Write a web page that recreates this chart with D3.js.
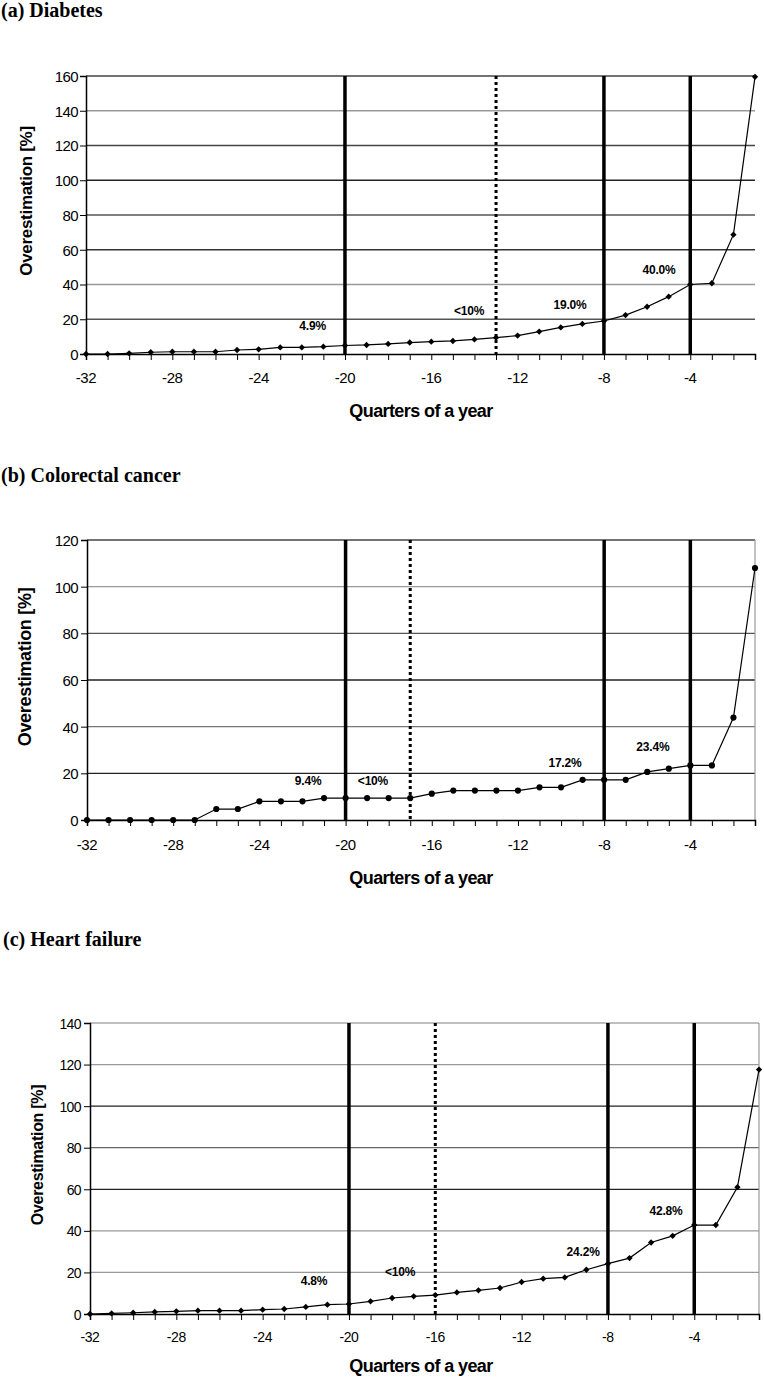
<!DOCTYPE html>
<html>
<head>
<meta charset="utf-8">
<script src="https://cdn.jsdelivr.net/npm/d3@7"></script>
<style>
  html, body { margin: 0; padding: 0; background: #fff; }
  svg { display: block; }
</style>
</head>
<body>
<svg id="chart" width="764" height="1386"></svg>
<script>
// ---------------- DATA ----------------
const quarters = [-32,-31,-30,-29,-28,-27,-26,-25,-24,-23,-22,-21,-20,-19,-18,-17,
                  -16,-15,-14,-13,-12,-11,-10,-9,-8,-7,-6,-5,-4,-3,-2,-1];
const xTickLabels = [-32,-28,-24,-20,-16,-12,-8,-4];

const diabetesValues = [0,0,0.4,1.0,1.3,1.3,1.3,2.3,2.7,3.8,3.8,4.2,4.9,5.2,5.8,6.6,
                        7.1,7.5,8.4,9.4,10.6,12.9,15.3,17.3,19.0,22.4,27.2,33.0,40.0,40.7,68.7,159.5];
const colorectalValues = [0,0,0,0,0,0,4.7,4.7,8.0,8.0,8.0,9.4,9.4,9.4,9.4,9.4,
                          11.3,12.6,12.6,12.6,12.6,14.0,14.0,17.2,17.2,17.2,20.6,22.0,23.4,23.4,43.9,108.0];
const heartValues = [0,0.3,0.6,1.0,1.3,1.6,1.6,1.6,2.1,2.4,3.4,4.5,4.8,6.1,7.7,8.5,
                     9.1,10.4,11.4,12.5,15.4,17.0,17.6,21.3,24.2,26.9,34.4,37.6,42.8,42.8,61.0,117.6];

const diabetesYTicks = [0,20,40,60,80,100,120,140,160];
const colorectalYTicks = [0,20,40,60,80,100,120];
const heartYTicks = [0,20,40,60,80,100,120,140];

const diabetesSolid = [-20,-8,-4], diabetesDotted = [-13];
const colorectalSolid = [-20,-8,-4], colorectalDotted = [-17];
const heartSolid = [-20,-8,-4], heartDotted = [-16];

// annotations in data coordinates (quarter, value at baseline)
const diabetesNotes = [
  {t:"4.9%", q:-21.5, v:13.8}, {t:"<10%", q:-14.25, v:22.4},
  {t:"19.0%", q:-9.57, v:25.9}, {t:"40.0%", q:-5.45, v:46}];
const colorectalNotes = [
  {t:"9.4%", q:-21.74, v:15}, {t:"<10%", q:-18.73, v:15},
  {t:"17.2%", q:-9.82, v:22.7}, {t:"23.4%", q:-5.74, v:29.6}];
const heartNotes = [
  {t:"4.8%", q:-21.62, v:13.95}, {t:"<10%", q:-17.63, v:18.3},
  {t:"24.2%", q:-9.15, v:27.9}, {t:"42.8%", q:-5.31, v:47.6}];

const titles = ["(a) Diabetes", "(b) Colorectal cancer", "(c) Heart failure"];

// ---------------- LAYOUT / STYLE ----------------
const panels = [
  { title: titles[0], values: diabetesValues, yTicks: diabetesYTicks, solid: diabetesSolid, dotted: diabetesDotted, notes: diabetesNotes,
    left: 86, right: 755, top: 76, bottom: 354, titleX: 1, titleY: 17, marker: "diamond",
    yLabelX: 32, yLabelY: 201, yLabelSize: 17, yTickSize: 15, yTickRight: 78,
    xTickY: 383, xTitleY: 417, xTickSize: 15, rightBorder: false,
    gridColors: ["#000","#555","#999","#333","#555","#222","#444","#999","#444"] },
  { title: titles[1], values: colorectalValues, yTicks: colorectalYTicks, solid: colorectalSolid, dotted: colorectalDotted, notes: colorectalNotes,
    left: 87, right: 755, top: 540, bottom: 820, titleX: 1, titleY: 482, marker: "circle",
    yLabelX: 31, yLabelY: 667, yLabelSize: 18, yTickSize: 15, yTickRight: 78,
    xTickY: 850, xTitleY: 884, xTickSize: 15, rightBorder: true,
    gridColors: ["#000","#222","#777","#222","#555","#999","#444"] },
  { title: titles[2], values: heartValues, yTicks: heartYTicks, solid: heartSolid, dotted: heartDotted, notes: heartNotes,
    left: 90, right: 759, top: 1023, bottom: 1314, titleX: 3, titleY: 946, marker: "diamond",
    yLabelX: 43, yLabelY: 1155, yLabelSize: 16, yTickSize: 14, yTickRight: 81,
    xTickY: 1342, xTitleY: 1372, xTickSize: 14, rightBorder: true,
    gridColors: ["#000","#999","#999","#222","#666","#222","#999","#aaa"] }
];

const svg = d3.select("#chart");
const sans = "Arial, 'Liberation Sans', Helvetica, sans-serif";
const serif = "'Times New Roman', 'Liberation Serif', serif";

panels.forEach(p => {
  const x = d3.scaleLinear().domain([quarters[0], quarters[quarters.length-1]]).range([p.left, p.right]);
  const y = d3.scaleLinear().domain([0, d3.max(p.yTicks)]).range([p.bottom, p.top]);
  const g = svg.append("g");

  // title
  g.append("text").attr("x", p.titleX).attr("y", p.titleY)
    .attr("font-family", serif).attr("font-weight", "bold").attr("font-size", 20)
    .text(p.title);

  // gridlines
  g.selectAll("line.grid").data(p.yTicks.filter(v => v > 0)).enter().append("line")
    .attr("x1", p.left).attr("x2", p.right)
    .attr("y1", d => y(d)).attr("y2", d => y(d))
    .attr("stroke", d => p.gridColors[p.yTicks.indexOf(d)]).attr("stroke-width", 1.3);

  if (p.rightBorder) {
    g.append("line").attr("x1", p.right).attr("x2", p.right).attr("y1", p.top).attr("y2", p.bottom)
      .attr("stroke", "#999").attr("stroke-width", 1.2);
  }

  // vertical reference lines
  g.selectAll("line.solid").data(p.solid).enter().append("line")
    .attr("x1", d => x(d)).attr("x2", d => x(d)).attr("y1", p.top).attr("y2", p.bottom)
    .attr("stroke", "#000").attr("stroke-width", 3.5);
  g.selectAll("line.dotted").data(p.dotted).enter().append("line")
    .attr("x1", d => x(d)).attr("x2", d => x(d)).attr("y1", p.top).attr("y2", p.bottom)
    .attr("stroke", "#000").attr("stroke-width", 3).attr("stroke-dasharray", "3,3");

  // y axis
  const yAxis = d3.axisLeft(y).tickValues(p.yTicks).tickSize(6).tickPadding(3).tickFormat(d3.format("d"));
  const ya = g.append("g").attr("transform", `translate(${p.left},0)`).call(yAxis);
  ya.select(".domain").attr("stroke", "#000").attr("stroke-width", 1.5);
  ya.selectAll(".tick line").attr("stroke", "#000").attr("stroke-width", 1);
  ya.selectAll(".tick text").attr("font-family", sans).attr("font-size", p.yTickSize)
    .attr("letter-spacing", "-0.6px").attr("fill", "#000")
    .attr("x", -(p.left - p.yTickRight)).attr("dy", "0.36em");

  // x axis (ticks each quarter)
  const xAxis = d3.axisBottom(x).tickValues(quarters).tickSize(6).tickFormat("");
  const xa = g.append("g").attr("transform", `translate(0,${p.bottom})`).call(xAxis);
  xa.select(".domain").attr("stroke", "#000").attr("stroke-width", 1.5);
  xa.selectAll(".tick line").attr("stroke", "#000").attr("stroke-width", 1);

  // x tick labels
  g.selectAll("text.xl").data(xTickLabels).enter().append("text")
    .attr("x", d => x(d)).attr("y", p.xTickY).attr("text-anchor", "middle")
    .attr("font-family", sans).attr("font-size", p.xTickSize).attr("letter-spacing", "-0.4px")
    .text(d => d);

  // axis titles
  g.append("text").attr("x", 421).attr("y", p.xTitleY).attr("text-anchor", "middle")
    .attr("font-family", sans).attr("font-weight", "bold").attr("font-size", 18)
    .attr("letter-spacing", "-0.6px").text("Quarters of a year");
  g.append("text").attr("transform", `translate(${p.yLabelX},${p.yLabelY}) rotate(-90)`)
    .attr("text-anchor", "middle")
    .attr("font-family", sans).attr("font-weight", "bold").attr("font-size", p.yLabelSize)
    .attr("letter-spacing", "-0.3px").text("Overestimation [%]");

  // series line
  const pts = quarters.map((q, i) => [q, p.values[i]]);
  g.append("path").datum(pts)
    .attr("d", d3.line().x(d => x(d[0])).y(d => y(d[1])))
    .attr("fill", "none").attr("stroke", "#000").attr("stroke-width", 1.2);

  const sym = p.marker === "circle"
    ? d3.symbol().type(d3.symbolCircle).size(30)
    : d3.symbol().type(d3.symbolSquare).size(20);
  g.selectAll("path.pt").data(pts).enter().append("path")
    .attr("transform", d => `translate(${x(d[0])},${y(d[1])})` + (p.marker === "circle" ? "" : " rotate(45)"))
    .attr("d", sym).attr("fill", "#000");

  // annotations
  g.selectAll("text.note").data(p.notes).enter().append("text")
    .attr("x", d => x(d.q)).attr("y", d => y(d.v)).attr("text-anchor", "middle")
    .attr("font-family", sans).attr("font-weight", "bold").attr("font-size", 12)
    .attr("letter-spacing", "-0.2px")
    .text(d => d.t);
});
</script>
</body>
</html>
